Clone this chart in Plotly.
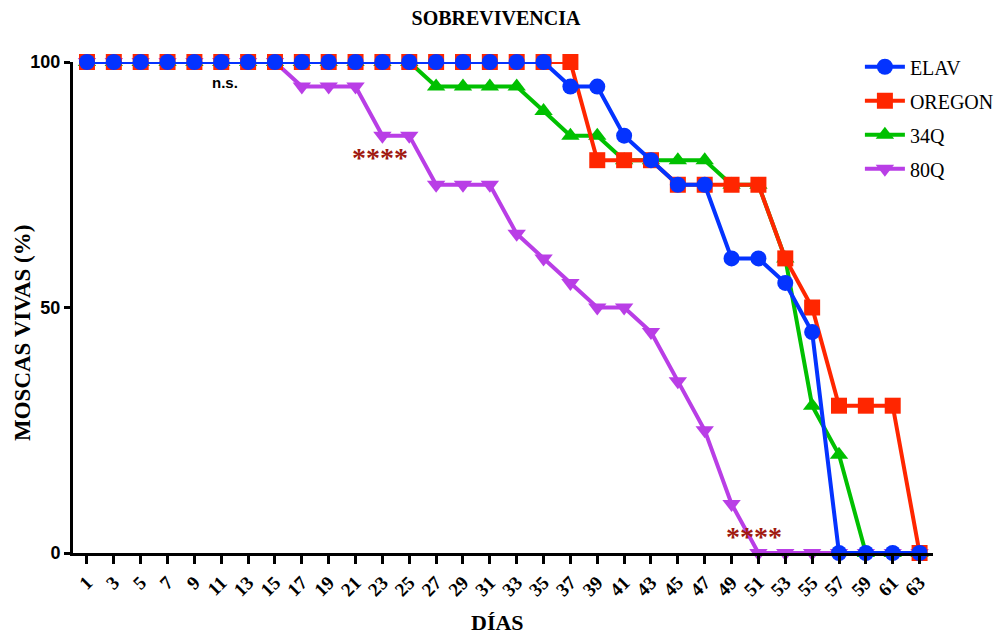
import plotly.graph_objects as go

# Survival (% flies alive) per day for each genotype
dias = [1, 3, 5, 7, 9, 11, 13, 15, 17, 19, 21, 23, 25, 27, 29, 31,
        33, 35, 37, 39, 41, 43, 45, 47, 49, 51, 53, 55, 57, 59, 61, 63]
tick_labels = [str(d) for d in dias]

elav = [100, 100, 100, 100, 100, 100, 100, 100, 100, 100, 100, 100, 100, 100, 100, 100,
        100, 100, 95, 95, 85, 80, 75, 75, 60, 60, 55, 45, 0, 0, 0, 0]
oregon = [100, 100, 100, 100, 100, 100, 100, 100, 100, 100, 100, 100, 100, 100, 100, 100,
          100, 100, 100, 80, 80, 80, 75, 75, 75, 75, 60, 50, 30, 30, 30, 0]
q34 = [100, 100, 100, 100, 100, 100, 100, 100, 100, 100, 100, 100, 100, 95, 95, 95,
       95, 90, 85, 85, 80, 80, 80, 80, 75, 75, 60, 30, 20, 0, 0, 0]
q80 = [100, 100, 100, 100, 100, 100, 100, 100, 95, 95, 95, 85, 85, 75, 75, 75,
       65, 60, 55, 50, 50, 45, 35, 25, 10, 0, 0, 0, 0, 0, 0, 0]

# Drawn bottom to top; legend rank gives the listing order
series = [
    ("80Q", q80, "#b93ee6", "triangle-down", 4),
    ("34Q", q34, "#00c000", "triangle-up", 3),
    ("OREGON", oregon, "#ff2600", "square", 2),
    ("ELAV", elav, "#0433ff", "circle", 1),
]

serif = "Liberation Serif"
sans = "Liberation Sans"

fig = go.Figure()
for name, vals, color, symbol, rank in series:
    fig.add_trace(go.Scatter(
        x=dias, y=vals, name=name, legendgroup=name, legendrank=rank,
        mode="lines+markers",
        line=dict(color=color, width=4),
        marker=dict(symbol=symbol, size=16, color=color, line=dict(width=0)),
        cliponaxis=False,
    ))

fig.update_layout(
    width=995, height=635,
    margin=dict(l=73, r=62, t=62, b=82, autoexpand=False),
    plot_bgcolor="white", paper_bgcolor="white",
    title=dict(text="SOBREVIVENCIA", x=496 / 995, xanchor="center", xref="container",
               y=1 - 18 / 635, yanchor="middle", yref="container",
               font=dict(family=serif, size=20, color="black", weight="bold")),
    showlegend=True,
    legend=dict(x=0.915, y=1.03, xanchor="left", yanchor="top",
                traceorder="grouped", tracegroupgap=5,
                bgcolor="rgba(0,0,0,0)",
                font=dict(family=serif, size=20, color="black"),
                itemwidth=40),
    xaxis=dict(
        range=[-0.04, 64.0], tickvals=dias, ticktext=tick_labels, tickangle=-45,
        automargin=False,
        showgrid=False, zeroline=False, showline=True, linecolor="black", linewidth=3,
        ticks="outside", ticklen=8, tickwidth=2.5, tickcolor="black",
        tickfont=dict(family=serif, size=19, color="black", weight="bold"),
    ),
    yaxis=dict(
        range=[0, 100], tickvals=[0, 50, 100], ticktext=["0", "50", "100"],
        automargin=False,
        showgrid=False, zeroline=False, showline=True, linecolor="black", linewidth=3,
        ticks="outside", ticklen=6, tickwidth=2.5, tickcolor="black",
        tickfont=dict(family=sans, size=18, color="black", weight="bold"),
    ),
)

# Axis titles
fig.add_annotation(xref="paper", yref="paper", x=(497 - 73) / 860, y=-(622 - 553) / 491,
                   text="DÍAS", showarrow=False, xanchor="center", yanchor="middle",
                   font=dict(family=serif, size=22, color="black", weight="bold"))
fig.add_annotation(xref="paper", yref="paper", x=(22 - 73) / 860, y=(553 - 333) / 491,
                   text="MOSCAS VIVAS (%)", showarrow=False, textangle=-90,
                   xanchor="center", yanchor="middle",
                   font=dict(family=serif, size=23, color="black", weight="bold"))

# Significance markers
fig.add_annotation(x=11.3, y=95.8, text="n.s.", showarrow=False,
                   font=dict(family=sans, size=15, color="black", weight="bold"))
fig.add_annotation(x=22.8, y=80.5, text="****", showarrow=False,
                   font=dict(family=serif, size=28, color="#a01a10", weight="bold"))
fig.add_annotation(x=50.7, y=3.4, text="****", showarrow=False,
                   font=dict(family=serif, size=28, color="#a01a10", weight="bold"))

fig.write_html("out.html")
